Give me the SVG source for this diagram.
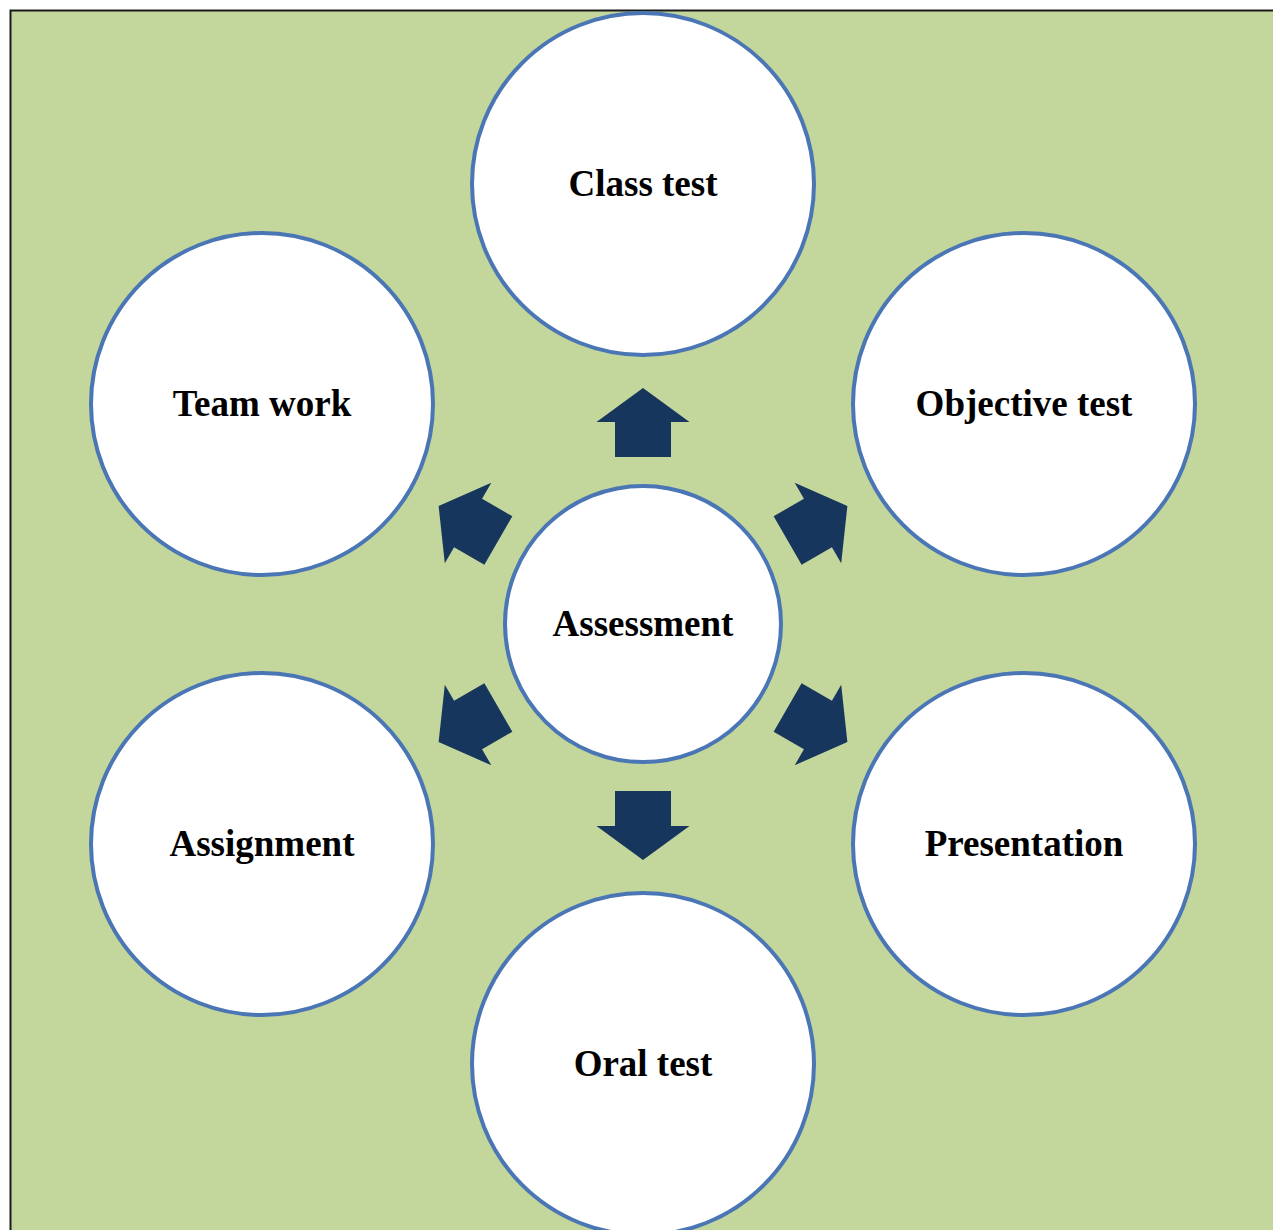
<svg xmlns="http://www.w3.org/2000/svg" width="1273" height="1230" viewBox="0 0 1273 1230">
<style>
.bg{fill:#C3D69B;stroke:#1a1a1a;stroke-width:2}
.c{fill:#FFFFFF;stroke:#4A76B5;stroke-width:4}
.t{font-family:"Liberation Serif","Times New Roman",serif;font-weight:bold;font-size:37px;fill:#000;text-anchor:middle}
.a{fill:#17365D}
</style>
<defs>
<polygon id="arr" points="0,-236 46.5,-202 28,-202 28,-167 -28,-167 -28,-202 -46.5,-202"/>
</defs>
<rect class="bg" x="10.5" y="10.5" width="1275" height="1235"/>
<g id="connectors" transform="translate(643,624)">
<use href="#arr" class="a" transform="rotate(0)"/>
<use href="#arr" class="a" transform="rotate(60)"/>
<use href="#arr" class="a" transform="rotate(120)"/>
<use href="#arr" class="a" transform="rotate(180)"/>
<use href="#arr" class="a" transform="rotate(240)"/>
<use href="#arr" class="a" transform="rotate(300)"/>
</g>
<g id="assessment"><circle class="c" cx="643" cy="624" r="138"/><text class="t" x="643" y="636">Assessment</text></g>
<g id="class-test"><circle class="c" cx="643" cy="184" r="171"/><text class="t" x="643" y="196">Class test</text></g>
<g id="objective-test"><circle class="c" cx="1024" cy="404" r="171"/><text class="t" x="1024" y="416">Objective test</text></g>
<g id="presentation"><circle class="c" cx="1024" cy="844" r="171"/><text class="t" x="1024" y="856">Presentation</text></g>
<g id="oral-test"><circle class="c" cx="643" cy="1064" r="171"/><text class="t" x="643" y="1076">Oral test</text></g>
<g id="assignment"><circle class="c" cx="262" cy="844" r="171"/><text class="t" x="262" y="856">Assignment</text></g>
<g id="team-work"><circle class="c" cx="262" cy="404" r="171"/><text class="t" x="262" y="416">Team work</text></g>
</svg>
